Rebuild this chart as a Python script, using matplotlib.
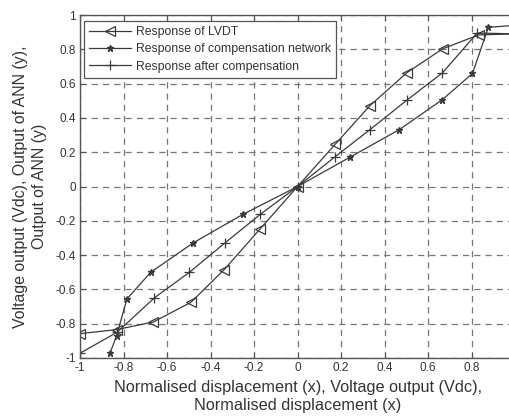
import numpy as np
import matplotlib.pyplot as plt

plt.rcParams['font.family'] = ['Liberation Sans', 'DejaVu Sans']

# Response of LVDT
x_lvdt = [-1.0, -0.83, -0.663, -0.49, -0.337, -0.172, 0.0, 0.172, 0.333, 0.502, 0.667, 0.833, 1.0]
y_lvdt = [-0.858, -0.834, -0.79, -0.675, -0.484, -0.247, 0.0, 0.245, 0.472, 0.663, 0.803, 0.884, 0.89]

# Response of compensation network
x_comp = [-0.862, -0.832, -0.785, -0.675, -0.479, -0.252, 0.0, 0.241, 0.468, 0.666, 0.804, 0.877, 1.0]
y_comp = [-0.97, -0.871, -0.656, -0.5, -0.328, -0.163, 0.0, 0.171, 0.332, 0.507, 0.659, 0.928, 0.94]

# Response after compensation
x_after = [-1.0, -0.83, -0.658, -0.497, -0.333, -0.172, 0.0, 0.172, 0.333, 0.502, 0.666, 0.826, 1.0]
y_after = [-0.972, -0.85, -0.649, -0.5, -0.328, -0.163, 0.0, 0.173, 0.332, 0.503, 0.663, 0.895, 0.89]

ticks = np.arange(-1, 1.01, 0.2)
xtick_labels = ['-1', '-0.8', '-0.6', '-0.4', '-0.2', '0', '0.2', '0.4', '0.6', '0.8', '']
ytick_labels = ['-1', '-0.8', '-0.6', '-0.4', '-0.2', '0', '0.2', '0.4', '0.6', '0.8', '1']

col = '#3a3a3a'

fig = plt.figure(figsize=(5.10, 4.17), dpi=100)
# right edge of the axes lies just past the picture, as in the reference
ax = fig.add_axes([0.157, 0.1415, 0.853, 0.8225])

ax.plot(x_lvdt, y_lvdt, color=col, lw=0.9, marker='<', ms=7, mfc='none', mec=col,
        mew=0.9, label='Response of LVDT')
ax.plot(x_comp, y_comp, color=col, lw=0.9, marker='*', ms=4.5, mfc=col, mec=col,
        label='Response of compensation network')
ax.plot(x_after, y_after, color=col, lw=0.9, marker='+', ms=7, mec=col,
        mew=0.9, label='Response after compensation')

ax.set_xlim(-1, 1)
ax.set_ylim(-1, 1)
ax.set_xticks(ticks)
ax.set_yticks(ticks)
ax.set_xticklabels(xtick_labels)
ax.set_yticklabels(ytick_labels)
ax.tick_params(direction='in', top=True, right=True, length=4, width=0.8,
               colors='#555555', labelcolor='#333333', labelsize=8.5, pad=3)
ax.grid(True, linestyle=(0, (5, 4)), color='#777777', lw=0.9)
for s in ax.spines.values():
    s.set_color('#555555')
    s.set_linewidth(1.0)

ax.set_xlabel('Normalised displacement (x), Voltage output (Vdc),\nNormalised displacement (x)',
              fontsize=11.7, color='#333333', labelpad=4, linespacing=1.3)
ax.set_ylabel('Voltage output (Vdc), Output of ANN (y),\nOutput of ANN (y)',
              fontsize=11.4, color='#333333', labelpad=6, linespacing=1.35)

leg = ax.legend(loc='upper left', bbox_to_anchor=(0.009, 0.983), fontsize=8.8,
                fancybox=False, edgecolor='#555555', framealpha=1, handlelength=3.4,
                borderaxespad=0, borderpad=0.45, labelspacing=0.42, handletextpad=0.4)
leg.get_frame().set_linewidth(0.9)
for t in leg.get_texts():
    t.set_color('#333333')

fig.savefig('out.png', dpi=100)
